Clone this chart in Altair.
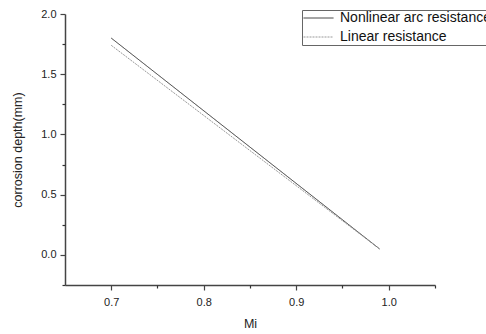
import altair as alt
import pandas as pd

mi = [0.70, 0.99]
nonlinear = [1.80, 0.05]
linear = [1.74, 0.05]
series_names = ["Nonlinear arc resistance", "Linear resistance"]

x_major = [0.7, 0.8, 0.9, 1.0]
x_minor = [0.75, 0.85, 0.95, 1.05]
y_major = [0.0, 0.5, 1.0, 1.5, 2.0]
y_minor = [-0.25, 0.25, 0.75, 1.25, 1.75]

rows = []
for x, a, b in zip(mi, nonlinear, linear):
    rows.append({"Mi": x, "depth": a, "series": series_names[0]})
    rows.append({"Mi": x, "depth": b, "series": series_names[1]})
df = pd.DataFrame(rows)

xs = alt.Scale(domain=[0.65, 1.05], nice=False, zero=False)
ys = alt.Scale(domain=[-0.25, 2.0], nice=False, zero=False)

axis_common = dict(
    domainColor="#444444", tickColor="#444444", domainWidth=1.5, tickWidth=1.2,
    grid=False, labelFont="Liberation Sans", titleFont="Liberation Sans",
    labelColor="#222222", titleColor="#222222", labelFontSize=11, titleFontSize=12.5,
    titleFontWeight="normal",
)

lines = alt.Chart(df).mark_line(strokeWidth=1, clip=True).encode(
    x=alt.X("Mi:Q", scale=xs, axis=alt.Axis(values=x_major, format=".1f", tickSize=5,
            title="Mi", titlePadding=10, labelPadding=6, orient="bottom", **axis_common)),
    y=alt.Y("depth:Q", scale=ys, axis=alt.Axis(values=y_major, format=".1f", tickSize=5,
            title="corrosion depth(mm)", titlePadding=16, labelPadding=4, orient="left", **axis_common)),
    color=alt.Color("series:N", scale=alt.Scale(domain=series_names, range=["#333333", "#999999"]),
                    legend=alt.Legend(title=None, orient="none", legendX=237, legendY=-4,
                                      symbolType="stroke", symbolSize=900, symbolStrokeWidth=1,
                                      labelFontSize=14, labelFont="Liberation Sans", labelColor="#111111",
                                      labelOffset=6, clipHeight=14,
                                      strokeColor="#666666", padding=1, rowPadding=5,
                                      fillColor="white", labelLimit=400)),
    strokeDash=alt.StrokeDash("series:N", scale=alt.Scale(domain=series_names, range=[[1, 0], [2, 1]]),
                              legend=None),
)

minor_df = pd.DataFrame({"Mi": [0.7], "depth": [0.0]})
minor = alt.Chart(minor_df).mark_point(opacity=0).encode(
    x=alt.X("Mi:Q", scale=xs, axis=alt.Axis(values=x_minor, labels=False, title=None, tickSize=3,
            orient="bottom", domain=False, ticks=True, tickColor="#333333", tickWidth=1.2, grid=False)),
    y=alt.Y("depth:Q", scale=ys, axis=alt.Axis(values=y_minor, labels=False, title=None, tickSize=3,
            orient="left", domain=False, ticks=True, tickColor="#333333", tickWidth=1.2, grid=False)),
)

chart = alt.layer(lines, minor).resolve_axis(x="independent", y="independent").properties(
    width=370, height=271,
    autosize=alt.AutoSizeParams(type="none"),
    padding={"left": 65, "top": 14, "right": 51, "bottom": 49},
    background="white",
).configure_view(stroke=None)

chart.save("out.html", embed_options={"renderer": "svg", "actions": False})
